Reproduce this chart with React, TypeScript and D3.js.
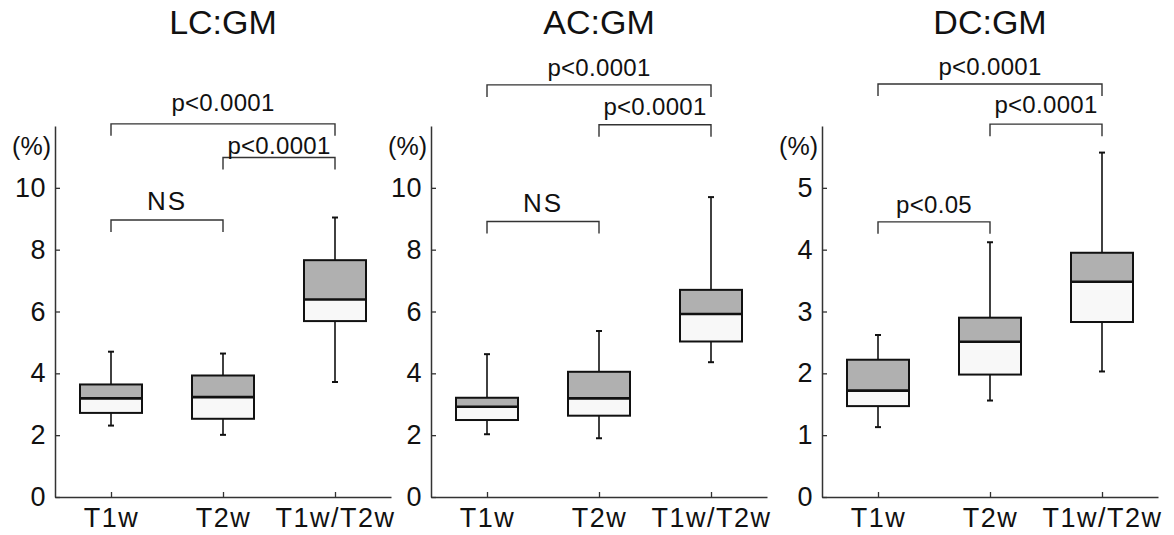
import React, { useEffect, useRef } from "react";
import * as d3 from "d3";

// ---- data ----
const categories = ["T1w", "T2w", "T1w/T2w"];
const panelTitles = ["LC:GM", "AC:GM", "DC:GM"];
const yMaxes = [12, 12, 6];
const yTicksPct10 = [0, 2, 4, 6, 8, 10];
const yTicksPct5 = [0, 1, 2, 3, 4, 5];

// [min, q1, median, q3, max]
const lcStats = [
  [2.31, 2.72, 3.19, 3.64, 4.7],
  [2.01, 2.53, 3.23, 3.93, 4.64],
  [3.72, 5.69, 6.39, 7.66, 9.04],
];
const acStats = [
  [2.03, 2.49, 2.92, 3.21, 4.62],
  [1.9, 2.63, 3.19, 4.05, 5.37],
  [4.36, 5.03, 5.92, 6.7, 9.7],
];
const dcStats = [
  [1.13, 1.47, 1.72, 2.22, 2.62],
  [1.56, 1.98, 2.51, 2.9, 4.12],
  [2.03, 2.83, 3.48, 3.95, 5.57],
];

// [fromIdx, toIdx, lineValue, labelValue, label]
const lcBrackets: [number, number, number, number, string][] = [
  [0, 1, 8.96, 9.27, "NS"],
  [1, 2, 10.98, 11.09, "p<0.0001"],
  [0, 2, 12.07, 12.47, "p<0.0001"],
];
const acBrackets: [number, number, number, number, string][] = [
  [0, 1, 8.91, 9.21, "NS"],
  [1, 2, 12.04, 12.36, "p<0.0001"],
  [0, 2, 13.33, 13.62, "p<0.0001"],
];
const dcBrackets: [number, number, number, number, string][] = [
  [0, 1, 4.45, 4.6, "p<0.05"],
  [1, 2, 6.03, 6.21, "p<0.0001"],
  [0, 2, 6.68, 6.83, "p<0.0001"],
];

const panelStats = [lcStats, acStats, dcStats];
const panelBrackets = [lcBrackets, acBrackets, dcBrackets];
const panelTicks = [yTicksPct10, yTicksPct10, yTicksPct5];

// ---- layout ----
const W = 1174;
const H = 535;
const panelX = [55, 431, 822];
const axisW = 336;
const yBottom = 497;
const yTop = 126;
const boxW = 62;
const FONT = "'Liberation Sans', Arial, Helvetica, sans-serif";

export default function App() {
  const ref = useRef<SVGSVGElement | null>(null);

  useEffect(() => {
    const svg = d3.select(ref.current);
    svg.selectAll("*").remove();
    svg.append("rect").attr("width", W).attr("height", H).attr("fill", "#fff");

    panelTitles.forEach((title, pi) => {
      const x0 = panelX[pi];
      const x = d3
        .scalePoint<string>()
        .domain(categories)
        .range([x0, x0 + axisW])
        .padding(0.5);
      const y = d3.scaleLinear().domain([0, yMaxes[pi]]).range([yBottom, yTop]);
      const g = svg.append("g");

      // title
      g.append("text")
        .attr("x", x(categories[1])!)
        .attr("y", 34)
        .attr("text-anchor", "middle")
        .attr("font-family", FONT)
        .attr("font-size", 34)
        .attr("fill", "#111")
        .text(title);

      // y axis
      const ya = g
        .append("g")
        .attr("transform", `translate(${x0},0)`)
        .call(
          d3
            .axisLeft(y)
            .tickValues(panelTicks[pi])
            .tickFormat(d3.format("d"))
            .tickSizeInner(-5)
            .tickSizeOuter(0)
            .tickPadding(9)
        );
      ya.select(".domain").attr("stroke", "#333").attr("stroke-width", 1.5);
      ya.selectAll(".tick line").attr("stroke", "#333").attr("stroke-width", 1.3);
      ya.selectAll(".tick text")
        .attr("font-family", FONT)
        .attr("font-size", 27)
        .attr("letter-spacing", 0.5)
        .attr("fill", "#111");

      // (%) label
      g.append("text")
        .attr("x", x0 - 4)
        .attr("y", 155)
        .attr("text-anchor", "end")
        .attr("font-family", FONT)
        .attr("font-size", 25)
        .attr("fill", "#111")
        .text("(%)");

      // x axis
      const xa = g
        .append("g")
        .attr("transform", `translate(0,${yBottom})`)
        .call(d3.axisBottom(x).tickSizeInner(-5).tickSizeOuter(0).tickPadding(11));
      xa.select(".domain").attr("stroke", "#333").attr("stroke-width", 1.5);
      xa.selectAll(".tick line").attr("stroke", "#333").attr("stroke-width", 1.3);
      xa.selectAll(".tick text")
        .attr("font-family", FONT)
        .attr("font-size", 27)
        .attr("letter-spacing", 1.5)
        .attr("fill", "#111");

      // boxes
      panelStats[pi].forEach((s, ci) => {
        const cx = x(categories[ci])!;
        const [mn, q1, md, q3, mx] = s;
        const bg = g.append("g");
        // whiskers
        bg.append("line")
          .attr("x1", cx).attr("x2", cx)
          .attr("y1", y(q3)).attr("y2", y(mx))
          .attr("stroke", "#111").attr("stroke-width", 1.6);
        bg.append("line")
          .attr("x1", cx).attr("x2", cx)
          .attr("y1", y(q1)).attr("y2", y(mn))
          .attr("stroke", "#111").attr("stroke-width", 1.6);
        [mn, mx].forEach((v) =>
          bg.append("line")
            .attr("x1", cx - 3).attr("x2", cx + 3)
            .attr("y1", y(v)).attr("y2", y(v))
            .attr("stroke", "#111").attr("stroke-width", 2)
        );
        // lower (white) part
        bg.append("rect")
          .attr("x", cx - boxW / 2)
          .attr("width", boxW)
          .attr("y", y(md))
          .attr("height", y(q1) - y(md))
          .attr("fill", "#f8f8f8");
        // upper (gray) part
        bg.append("rect")
          .attr("x", cx - boxW / 2)
          .attr("width", boxW)
          .attr("y", y(q3))
          .attr("height", y(md) - y(q3))
          .attr("fill", "#b0b0b0");
        // outline
        bg.append("rect")
          .attr("x", cx - boxW / 2)
          .attr("width", boxW)
          .attr("y", y(q3))
          .attr("height", y(q1) - y(q3))
          .attr("fill", "none")
          .attr("stroke", "#111")
          .attr("stroke-width", 2);
        // median
        bg.append("line")
          .attr("x1", cx - boxW / 2).attr("x2", cx + boxW / 2)
          .attr("y1", y(md)).attr("y2", y(md))
          .attr("stroke", "#111").attr("stroke-width", 2.6);
      });

      // significance brackets
      panelBrackets[pi].forEach(([a, b, lv, tv, label]) => {
        const xa1 = x(categories[a])!;
        const xb1 = x(categories[b])!;
        const ly = y(lv);
        const path = d3.path();
        path.moveTo(xa1, ly + 12);
        path.lineTo(xa1, ly);
        path.lineTo(xb1, ly);
        path.lineTo(xb1, ly + 12);
        g.append("path")
          .attr("d", path.toString())
          .attr("fill", "none")
          .attr("stroke", "#333")
          .attr("stroke-width", 1.4);
        g.append("text")
          .attr("x", (xa1 + xb1) / 2)
          .attr("y", y(tv))
          .attr("text-anchor", "middle")
          .attr("font-family", FONT)
          .attr("font-size", label === "NS" ? 26 : 24)
          .attr("letter-spacing", label === "NS" ? 2 : 0.3)
          .attr("fill", "#111")
          .text(label);
      });
    });
  }, []);

  return (
    <svg
      ref={ref}
      width={W}
      height={H}
      style={{ position: "absolute", left: 0, top: 0 }}
    />
  );
}
